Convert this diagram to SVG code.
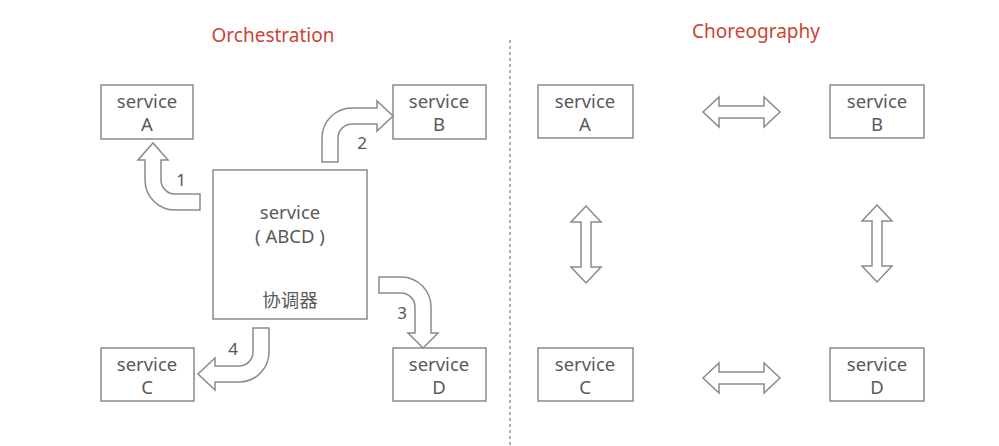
<svg xmlns="http://www.w3.org/2000/svg" width="999" height="446" viewBox="0 0 999 446">
<style>
.box{fill:#fff;stroke:#8a8a8a;stroke-width:1.5}
.t{font-family:"Noto Sans","Noto Sans CJK SC",sans-serif;font-size:18.5px;fill:#5a5a5a;text-anchor:middle}
.num{font-family:"Noto Sans",sans-serif;font-size:17px;fill:#555;text-anchor:middle}
.title{font-family:"Noto Sans",sans-serif;font-size:19px;fill:#cc4436;text-anchor:middle}
.arr{fill:#fff;stroke:#8a8a8a;stroke-width:1.5;stroke-linejoin:miter}
</style>
<rect width="999" height="446" fill="#fff"/>
<text class="title" x="273" y="42">Orchestration</text>
<text class="title" x="756" y="38">Choreography</text>
<line x1="510" y1="40" x2="510" y2="446" stroke="#999" stroke-width="1.5" stroke-dasharray="3,3"/>

<g id="orchA"><rect class="box" x="101" y="85" width="92" height="54"/><text class="t" x="147" y="108">service</text><text class="t" x="147" y="131">A</text></g>
<g id="orchB"><rect class="box" x="393" y="85" width="93" height="54"/><text class="t" x="439" y="108">service</text><text class="t" x="439" y="131">B</text></g>
<g id="orchC"><rect class="box" x="101" y="348" width="93" height="53"/><text class="t" x="147" y="371">service</text><text class="t" x="147" y="394">C</text></g>
<g id="orchD"><rect class="box" x="393" y="348" width="93" height="53"/><text class="t" x="439" y="371">service</text><text class="t" x="439" y="394">D</text></g>
<g id="coordinator"><rect class="box" x="213" y="170" width="154" height="149"/><text class="t" x="290" y="219">service</text><text class="t" x="290" y="243">( ABCD )</text><text class="t" x="290" y="307">协调器</text></g>

<g id="chorA"><rect class="box" x="538" y="85" width="95" height="53"/><text class="t" x="585" y="108">service</text><text class="t" x="585" y="131">A</text></g>
<g id="chorB"><rect class="box" x="830" y="85" width="94" height="53"/><text class="t" x="877" y="108">service</text><text class="t" x="877" y="131">B</text></g>
<g id="chorC"><rect class="box" x="538" y="348" width="95" height="53"/><text class="t" x="585" y="371">service</text><text class="t" x="585" y="394">C</text></g>
<g id="chorD"><rect class="box" x="830" y="348" width="94" height="53"/><text class="t" x="877" y="371">service</text><text class="t" x="877" y="394">D</text></g>

<g id="connectors">
<path class="arr" d="M200,194 L175,194 A14,14 0 0 1 161,180 L161,160 L168,160 L153,143 L138,160 L145,160 L145,180 A30,30 0 0 0 175,210 L200,210 Z"/>
<path class="arr" d="M322,162 L322,138 A30,30 0 0 1 352,108 L377,108 L377,101 L393,116 L377,131 L377,124 L352,124 A14,14 0 0 0 338,138 L338,162 Z"/>
<path class="arr" d="M379,277 L401,277 A30,30 0 0 1 431,307 L431,333 L438,333 L423,348 L408,333 L415,333 L415,307 A14,14 0 0 0 401,293 L379,293 Z"/>
<path class="arr" d="M253,328 L269,328 L269,352 A30,30 0 0 1 239,382 L215,382 L215,390 L198,374 L215,358 L215,366 L239,366 A14,14 0 0 0 253,352 Z"/>
<text class="num" x="181" y="186">1</text>
<text class="num" x="362" y="149">2</text>
<text class="num" x="402" y="319">3</text>
<text class="num" x="233" y="355">4</text>
<path class="arr" d="M703,112 L719,97 L719,106 L764,106 L764,97 L780,112 L764,127 L764,118 L719,118 L719,127 Z"/>
<path class="arr" d="M703,378 L719,363 L719,372 L764,372 L764,363 L780,378 L764,393 L764,384 L719,384 L719,393 Z"/>
<path class="arr" d="M586,206 L601,222 L591,222 L591,267 L601,267 L586,283 L571,267 L581,267 L581,222 L571,222 Z"/>
<path class="arr" d="M877,205 L892,221 L882,221 L882,266 L892,266 L877,282 L862,266 L872,266 L872,221 L862,221 Z"/>
</g>
</svg>
